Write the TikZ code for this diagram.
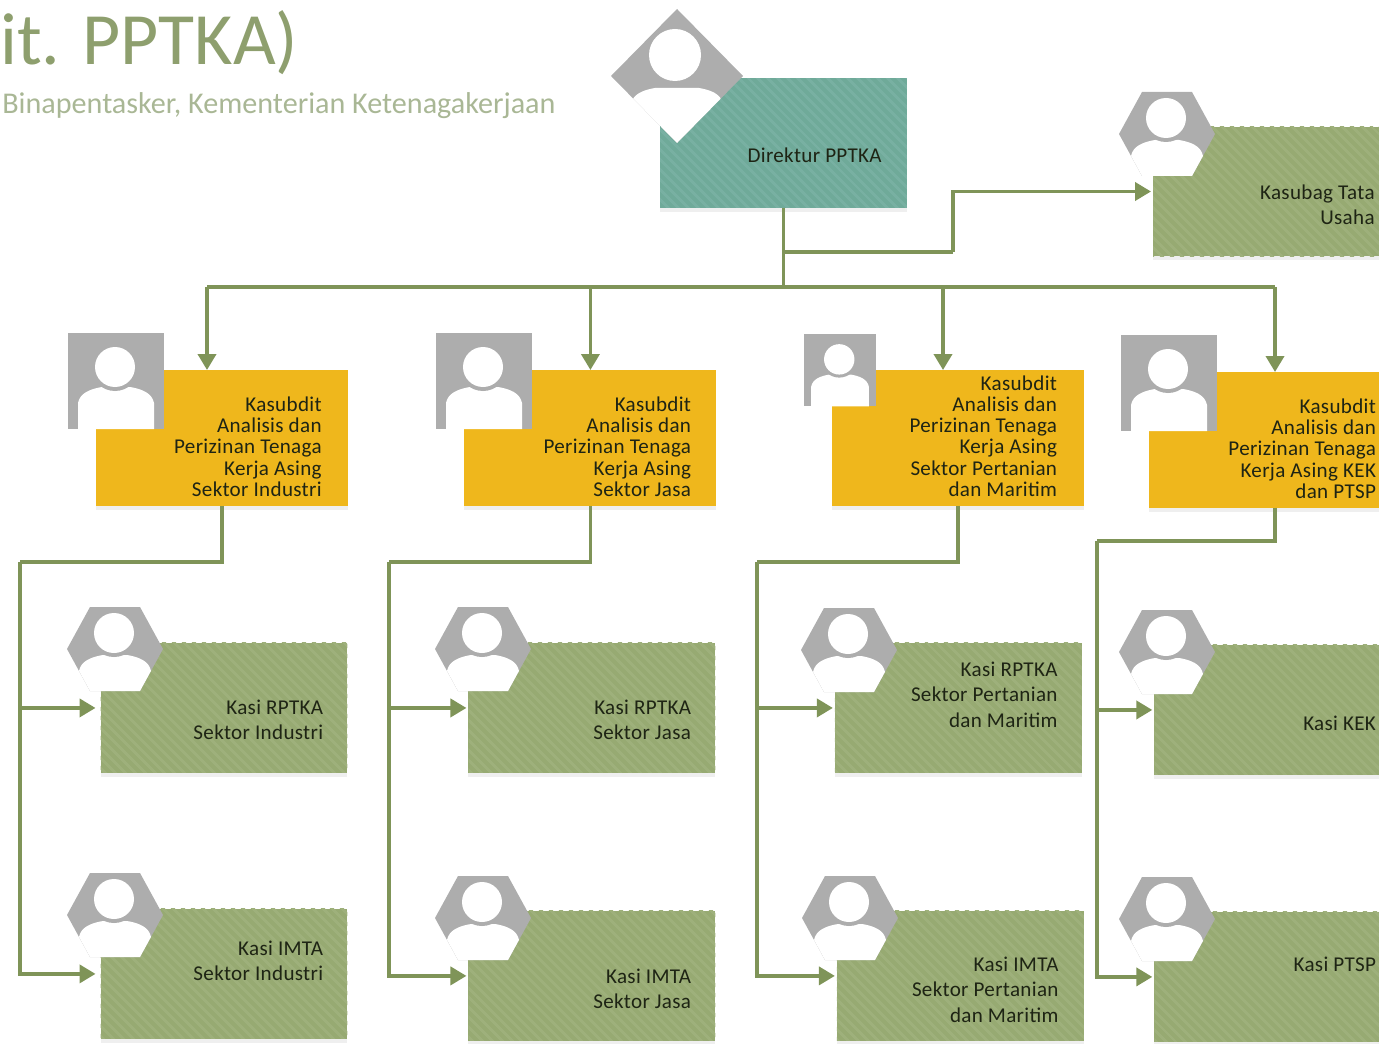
\documentclass[tikz,border=0pt]{standalone}
\usepackage{fontspec}
\setmainfont{Carlito}
\newfontface\boxfont[LetterSpace=1.5]{Carlito}
\usetikzlibrary{arrows.meta, positioning, patterns.meta, shadows}
\definecolor{linegreen}{HTML}{7F9458}
\definecolor{teal}{HTML}{6FAA99}
\definecolor{tealstripe}{HTML}{78B0A2}
\definecolor{olive}{HTML}{97AA72}
\definecolor{olivestripe}{HTML}{9EB07B}
\definecolor{amber}{HTML}{EFB71C}
\definecolor{icongray}{HTML}{ADADAD}
\definecolor{titlegreen}{HTML}{8E9F6E}
\definecolor{subtitlegreen}{HTML}{A9B795}
\definecolor{boxtextcol}{HTML}{1E2414}

% head and shoulders: head x, head y, radius, body half width, body top, body bottom
\newcommand{\personfig}[6]{
    \fill[white] (-#4,#6) -- (-#4,#5+16) .. controls (-#4+2,#5+6) and (-#4+12,#5+2) .. (-#4+24,#5) -- (#4-24,#5) .. controls (#4-12,#5+2) and (#4-2,#5+6) .. (#4,#5+16) -- (#4,#6) -- cycle;
    \fill[icongray] (#1,#2) circle (#3+4);
    \fill[white] (#1,#2) circle (#3);
}
\tikzset{
    pics/squareicon/.style={code={
        \begin{scope}
            \fill[icongray] (-48,-48) rectangle (48,48);
            \clip (-48,-48) rectangle (48,48);
            \personfig{-1}{-14}{20}{38}{6}{48}
        \end{scope}
    }},
    pics/hexicon/.style={code={
        \begin{scope}
            \fill[icongray] (-48,0) -- (-25,-42) -- (25,-42) -- (48,0) -- (25,42) -- (-25,42) -- cycle;
            \clip (-48,0) -- (-25,-42) -- (25,-42) -- (48,0) -- (25,42) -- (-25,42) -- cycle;
            \personfig{-1}{-16}{20}{36}{6}{42}
        \end{scope}
    }},
    pics/diamondicon/.style={code={
        \begin{scope}
            \fill[icongray] (-66,0) -- (0,-67) -- (66,0) -- (0,67) -- cycle;
            \clip (-66,0) -- (0,-67) -- (66,0) -- (0,67) -- cycle;
            \personfig{-2}{-21}{26}{46}{12}{67}
        \end{scope}
    }}
}

\begin{document}
\begin{tikzpicture}[x=0.02cm, y=-0.02cm, >={Triangle[length=0.32cm, width=0.36cm]}]
    \tikzstyle{basebox} = [draw=none, inner sep=0, outer sep=0, minimum width=4.94cm, minimum height=2.6cm, drop shadow={shadow xshift=0pt, shadow yshift=-0.08cm, opacity=0.13}]
    \tikzstyle{tealbox} = [basebox, preaction={fill=teal}, pattern={Lines[angle=-45, distance=0.14cm, line width=0.06cm]}, pattern color=tealstripe]
    \tikzstyle{kasibox} = [basebox, preaction={fill=olive}, pattern={Lines[angle=-45, distance=0.14cm, line width=0.06cm]}, pattern color=olivestripe]
    \tikzstyle{kasubbox} = [basebox, fill=amber, minimum width=5.04cm, minimum height=2.72cm]
    \tikzstyle{kasitext} = [anchor=east, inner sep=0, align=right, text=boxtextcol, font=\boxfont\fontsize{12}{14.5}\selectfont]
    \tikzstyle{kasubtext} = [anchor=east, inner sep=0, align=right, text=boxtextcol, font=\boxfont\fontsize{12}{12.1}\selectfont]
    \tikzstyle{conn} = [draw=linegreen, line width=0.075cm]
    \path[use as bounding box, clip] (0,0) rectangle (1379,1044);

    \node [anchor=west, inner sep=0, text=titlegreen, font=\fontsize{42}{42}\selectfont] at (0,43) (titletext) {it. PPTKA)};
    \node [anchor=west, inner sep=0, text=subtitlegreen, font=\fontsize{17.15}{17.15}\selectfont] at (2,106) (subtitletext) {Binapentasker, Kementerian Ketenagakerjaan};

    % top level
    \node [tealbox] at (783.5,143) (dirbox) {};
    \node [kasibox] at (1276.5,191.5) (tatabox) {};

    % kasubdit row
    \node [kasubbox] at (222,438) (kasa) {};
    \node [kasubbox, right=2.33cm of kasa] (kasb) {};
    \node [kasubbox, right=2.32cm of kasb] (kasc) {};
    \node [kasubbox, right=1.3cm of kasc, yshift=-0.04cm] (kasd) {};

    % kasi rows
    \node [kasibox, below=2.74cm of kasa, xshift=0.04cm] (kasia) {};
    \node [kasibox, below=2.72cm of kasia] (imtaa) {};
    \node [kasibox, below=2.74cm of kasb, xshift=0.03cm] (kasib) {};
    \node [kasibox, below=2.76cm of kasib] (imtab) {};
    \node [kasibox, below=2.74cm of kasc] (kasic) {};
    \node [kasibox, below=2.76cm of kasic, xshift=0.04cm] (imtac) {};
    \node [kasibox, below=2.74cm of kasd, xshift=0.05cm] (kasid) {};
    \node [kasibox, below=2.74cm of kasid] (imtad) {};

    % texts
    \node [kasitext, xshift=-0.5cm, yshift=-0.24cm] at (dirbox.east) (dirtext) {Direktur PPTKA};
    \node [kasitext, xshift=-0.5cm, yshift=-0.27cm] at (tatabox.east) (tatatext) {Kasubag Tata\\Usaha};
    \node [kasubtext, xshift=-0.52cm, yshift=-0.17cm] at (kasa.east) (kasatext) {Kasubdit\\Analisis dan\\Perizinan Tenaga\\Kerja Asing\\Sektor Industri};
    \node [kasubtext, xshift=-0.5cm, yshift=-0.17cm] at (kasb.east) (kasbtext) {Kasubdit\\Analisis dan\\Perizinan Tenaga\\Kerja Asing\\Sektor Jasa};
    \node [kasubtext, xshift=-0.54cm, yshift=0.04cm] at (kasc.east) (kasctext) {Kasubdit\\Analisis dan\\Perizinan Tenaga\\Kerja Asing\\Sektor Pertanian\\dan Maritim};
    \node [kasubtext, xshift=-0.5cm, yshift=-0.17cm] at (kasd.east) (kasdtext) {Kasubdit\\Analisis dan\\Perizinan Tenaga\\Kerja Asing KEK\\dan PTSP};
    \node [kasitext, xshift=-0.48cm, yshift=-0.24cm] at (kasia.east) (kasiatext) {Kasi RPTKA\\Sektor Industri};
    \node [kasitext, xshift=-0.48cm, yshift=-0.24cm] at (kasib.east) (kasibtext) {Kasi RPTKA\\Sektor Jasa};
    \node [kasitext, xshift=-0.48cm, yshift=0.27cm] at (kasic.east) (kasictext) {Kasi RPTKA\\Sektor Pertanian\\dan Maritim};
    \node [kasitext, xshift=-0.5cm, yshift=-0.26cm] at (kasid.east) (kasidtext) {Kasi KEK};
    \node [kasitext, xshift=-0.48cm, yshift=0.26cm] at (imtaa.east) (imtaatext) {Kasi IMTA\\Sektor Industri};
    \node [kasitext, xshift=-0.48cm, yshift=-0.26cm] at (imtab.east) (imtabtext) {Kasi IMTA\\Sektor Jasa};
    \node [kasitext, xshift=-0.5cm, yshift=-0.27cm] at (imtac.east) (imtactext) {Kasi IMTA\\Sektor Pertanian\\dan Maritim};
    \node [kasitext, xshift=-0.5cm, yshift=0.26cm] at (imtad.east) (imtadtext) {Kasi PTSP};

    % connector corners
    \coordinate (busa) at (207,287);
    \coordinate (busc) at (943,287);
    \coordinate (busd) at (1275,287);
    \coordinate (tatacorner) at (953,252);
    \coordinate (trunka) at (20,562);
    \coordinate (trunkb) at (389,562);
    \coordinate (trunkc) at (757,562);
    \coordinate (trunkd) at (1097,541);

    \draw[conn] (dirbox.south) -- (dirbox.south |- busa);
    \draw[conn] (busa) -- (busd);
    \draw[conn] (dirbox.south |- tatacorner) -- (tatacorner);
    \draw[conn, ->, shorten >=0.04cm] (tatacorner) |- (tatabox.west);
    \draw[conn, ->] (busa) -- (busa |- kasa.north);
    \draw[conn, ->] (busa -| kasb.north) -- (kasb.north);
    \draw[conn, ->] (busc) -- (busc |- kasc.north);
    \draw[conn, ->] (busd) -- (busd |- kasd.north);

    \draw[conn] (kasa.south) |- (trunka);
    \draw[conn, ->, shorten >=0.1cm] (trunka) |- (kasia.west);
    \draw[conn, ->, shorten >=0.1cm] (trunka) |- (imtaa.west);
    \draw[conn] (kasb.south) |- (trunkb);
    \draw[conn, ->, shorten >=0.04cm] (trunkb) |- (kasib.west);
    \draw[conn, ->, shorten >=0.04cm] (trunkb) |- (imtab.west);
    \draw[conn] (kasc.south) |- (trunkc);
    \draw[conn, ->, shorten >=0.04cm] (trunkc) |- (kasic.west);
    \draw[conn, ->, shorten >=0.04cm] (trunkc) |- (imtac.west);
    \draw[conn] (kasd.south) |- (trunkd);
    \draw[conn, ->, shorten >=0.04cm] (trunkd) |- (kasid.west);
    \draw[conn, ->, shorten >=0.04cm] (trunkd) |- (imtad.west);

    % person icons
    \pic (icondir) at (677,76) {diamondicon};
    \pic (icontata) at (1167,134) {hexicon};
    \pic (iconkasa) at (116,381) {squareicon};
    \pic (iconkasb) at (484,381) {squareicon};
    \pic[scale=0.76] (iconkasc) at (840,370) {squareicon};
    \pic (iconkasd) at (1169,383) {squareicon};
    \pic (iconkasia) at (115,649) {hexicon};
    \pic (iconkasib) at (483,649) {hexicon};
    \pic (iconkasic) at (849,650) {hexicon};
    \pic (iconkasid) at (1167,652) {hexicon};
    \pic (iconimtaa) at (115,915) {hexicon};
    \pic (iconimtab) at (483,918) {hexicon};
    \pic (iconimtac) at (850,918) {hexicon};
    \pic (iconimtad) at (1167,919) {hexicon};
\end{tikzpicture}
\end{document}
